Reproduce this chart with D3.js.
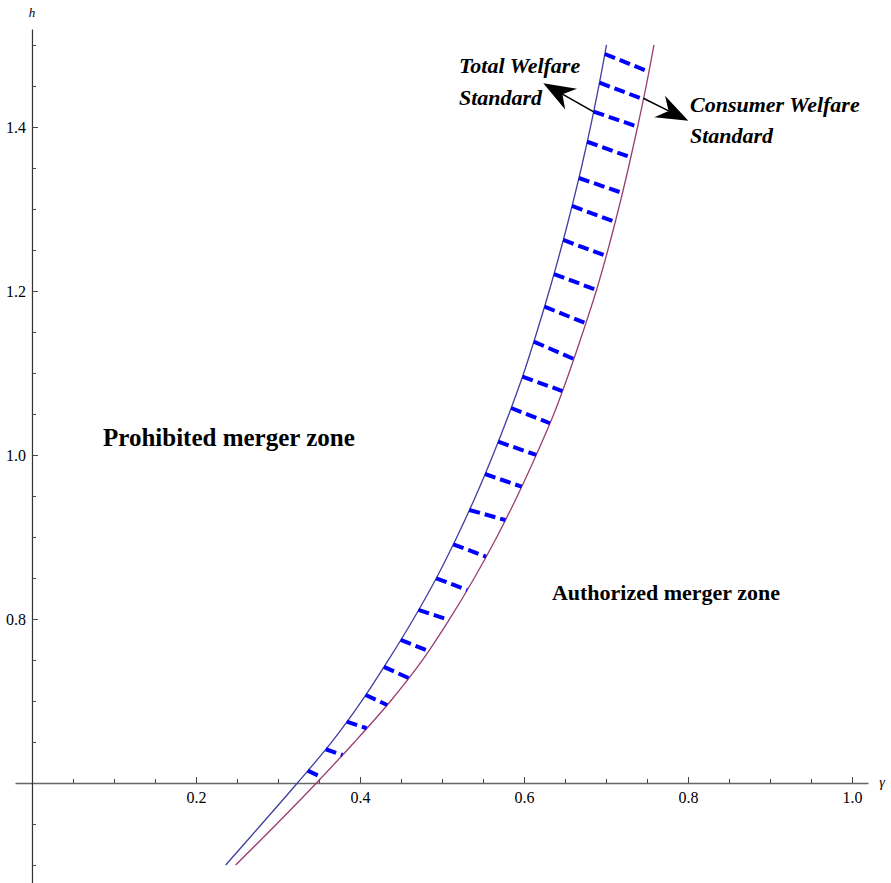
<!DOCTYPE html>
<html>
<head>
<meta charset="utf-8">
<script src="https://cdn.jsdelivr.net/npm/d3@7"></script>
<style>
  html, body { margin: 0; padding: 0; background: #fff; }
  svg { display: block; }
  text { font-family: "Liberation Serif", "Times New Roman", serif; }
</style>
</head>
<body>
<svg id="chart" width="891" height="883"></svg>
<script>
// ---- data ----
// h values at which the two boundaries were read
const curveH = [0.5, 0.55, 0.6, 0.65, 0.7, 0.75, 0.8, 0.85, 0.9, 0.95, 1.0, 1.05, 1.1, 1.15, 1.2, 1.25, 1.3, 1.35, 1.4, 1.45, 1.5];
// Total Welfare Standard boundary (blue): gamma
const blueG = [0.2362, 0.2802, 0.3237, 0.3657, 0.4022, 0.4347, 0.4652, 0.4932, 0.5182, 0.5412, 0.5622, 0.5817, 0.5997, 0.6157, 0.6307, 0.6447, 0.6577, 0.6699, 0.6811, 0.6913, 0.7006];
// Consumer Welfare Standard boundary (purple): gamma
const redG = [0.2484, 0.2984, 0.3469, 0.3934, 0.4374, 0.4764, 0.5094, 0.5394, 0.5669, 0.5919, 0.6149, 0.6364, 0.6549, 0.6719, 0.6881, 0.7023, 0.7153, 0.7273, 0.7385, 0.7490, 0.7585];
// hatch lines: h at the blue end and h at the purple end
const hatchLeftH  = [1.489, 1.454, 1.4187, 1.382, 1.3378, 1.3037, 1.2622, 1.2207, 1.1809, 1.1382, 1.0955, 1.0573, 1.0162, 0.9768, 0.9329, 0.8911, 0.8496, 0.811, 0.7744, 0.7415, 0.7073, 0.6748, 0.6411, 0.615];
const hatchRightH = [1.4674, 1.4338, 1.4004, 1.363, 1.3195, 1.2841, 1.2427, 1.2012, 1.1606, 1.1171, 1.078, 1.0387, 1.0, 0.9613, 0.9207, 0.8759, 0.8354, 0.7988, 0.761, 0.728, 0.6951, 0.6667, 0.6341, 0.607];
// axes
const xTickLabels = [0.2, 0.4, 0.6, 0.8, 1.0];
const yTickLabels = [0.8, 1.0, 1.2, 1.4];
const xRange = [-0.0207, 1.0195];
const yRange = [0.478, 1.5195];
const origin = [0, 0.6];

// ---- scales ----
const svg = d3.select("#chart");
const x = d3.scaleLinear().domain(xRange).range([15, 868]);
const y = d3.scaleLinear().domain(yRange).range([883, 29]);

// ---- axes ----
const xMinor = d3.range(0.05, 1.0001, 0.05).map(v => +v.toFixed(2)).filter(v => !xTickLabels.some(t => Math.abs(t - v) < 1e-6));
const yMinor = d3.range(0.5, 1.5001, 0.05).map(v => +v.toFixed(2)).filter(v => Math.abs(v - 0.6) > 1e-6 && !yTickLabels.some(t => Math.abs(t - v) < 1e-6));

const gx = svg.append("g").attr("transform", `translate(0,${y(origin[1])})`);
gx.call(d3.axisBottom(x).tickValues(xTickLabels).tickSize(-6).tickSizeOuter(0).tickPadding(9).tickFormat(d3.format(".1f")));
const gxm = svg.append("g").attr("transform", `translate(0,${y(origin[1])})`);
gxm.call(d3.axisBottom(x).tickValues(xMinor).tickSize(-4).tickSizeOuter(0).tickFormat(""));
gxm.select(".domain").remove();

const gy = svg.append("g").attr("transform", `translate(${x(origin[0])},0)`);
gy.call(d3.axisLeft(y).tickValues(yTickLabels).tickSize(-6).tickSizeOuter(0).tickPadding(6).tickFormat(d3.format(".1f")));
const gym = svg.append("g").attr("transform", `translate(${x(origin[0])},0)`);
gym.call(d3.axisLeft(y).tickValues(yMinor).tickSize(-4).tickSizeOuter(0).tickFormat(""));
gym.select(".domain").remove();

[gx, gxm, gy, gym].forEach(g => g.attr("font-family", "Liberation Serif").attr("font-size", 16));
svg.selectAll(".tick text")
  .style("font-family", "'Liberation Serif', serif").style("font-size", "16px").attr("fill", "#000");
gx.select(".domain").attr("stroke", "#666").attr("stroke-width", 1.4);
gy.select(".domain").attr("stroke", "#333").attr("stroke-width", 1.2);
svg.selectAll(".tick line").attr("stroke", "#444");

svg.append("text").attr("x", 882).attr("y", y(origin[1]) + 4)
  .attr("font-style", "italic").attr("font-size", 14).attr("text-anchor", "middle").text("γ");
svg.append("text").attr("x", x(origin[0])).attr("y", 17)
  .attr("font-style", "italic").attr("font-size", 13).attr("text-anchor", "middle").text("h");

// ---- curves ----
const blue = curveH.map((h, i) => ({ h, g: blueG[i] }));
const red = curveH.map((h, i) => ({ h, g: redG[i] }));
const line = d3.line().x(d => x(d.g)).y(d => y(d.h)).curve(d3.curveCatmullRom);

svg.append("path").datum(blue).attr("d", line).attr("fill", "none").attr("stroke", "#3f3f9f").attr("stroke-width", 1.3);
svg.append("path").datum(red).attr("d", line).attr("fill", "none").attr("stroke", "#993d71").attr("stroke-width", 1.3);

// ---- hatch lines ----
function gAt(arrG, h) {
  const i = Math.max(1, Math.min(curveH.length - 1, d3.bisectLeft(curveH, h)));
  const t = (h - curveH[i - 1]) / (curveH[i] - curveH[i - 1]);
  return arrG[i - 1] + t * (arrG[i] - arrG[i - 1]);
}
const hatches = hatchLeftH.map((hl, i) => ({
  g1: gAt(blueG, hl), h1: hl,
  g2: gAt(redG, hatchRightH[i]), h2: hatchRightH[i]
}));
svg.append("g").selectAll("line").data(hatches).join("line")
  .attr("x1", d => x(d.g1)).attr("y1", d => y(d.h1))
  .attr("x2", d => x(d.g2)).attr("y2", d => y(d.h2))
  .attr("stroke", "#0000ff").attr("stroke-width", 4).attr("stroke-dasharray", "11,5");

// ---- annotations ----
function arrow(g1, h1, g2, h2) {
  const x1 = x(g1), y1 = y(h1), x2 = x(g2), y2 = y(h2);
  const dx = x2 - x1, dy = y2 - y1, len = Math.hypot(dx, dy);
  const ux = dx / len, uy = dy / len, px = -uy, py = ux;
  const L = 32, W = 12, N = 22;
  svg.append("line").attr("x1", x1).attr("y1", y1)
    .attr("x2", x2 - ux * N).attr("y2", y2 - uy * N)
    .attr("stroke", "#000").attr("stroke-width", 1.6);
  const pts = [
    [x2, y2],
    [x2 - ux * L + px * W, y2 - uy * L + py * W],
    [x2 - ux * N, y2 - uy * N],
    [x2 - ux * L - px * W, y2 - uy * L - py * W]
  ];
  svg.append("path").attr("d", "M" + pts.map(p => p.join(",")).join("L") + "Z").attr("fill", "#000");
}
arrow(0.6845, 1.4187, 0.6235, 1.4533);
arrow(0.7455, 1.435, 0.8004, 1.4077);

function label(g, h, txt, size, italic) {
  svg.append("text").attr("x", x(g)).attr("y", y(h))
    .attr("font-weight", "bold").attr("font-style", italic ? "italic" : "normal")
    .attr("font-size", size).attr("fill", "#000").text(txt);
}
label(0.5207, 1.4659, "Total Welfare", 22, true);
label(0.5207, 1.4268, "Standard", 22, true);
label(0.8024, 1.4187, "Consumer Welfare", 22, true);
label(0.8024, 1.38, "Standard", 22, true);
label(0.0866, 1.011, "Prohibited merger zone", 25, false);
label(0.634, 0.823, "Authorized merger zone", 22, false);
</script>
</body>
</html>
